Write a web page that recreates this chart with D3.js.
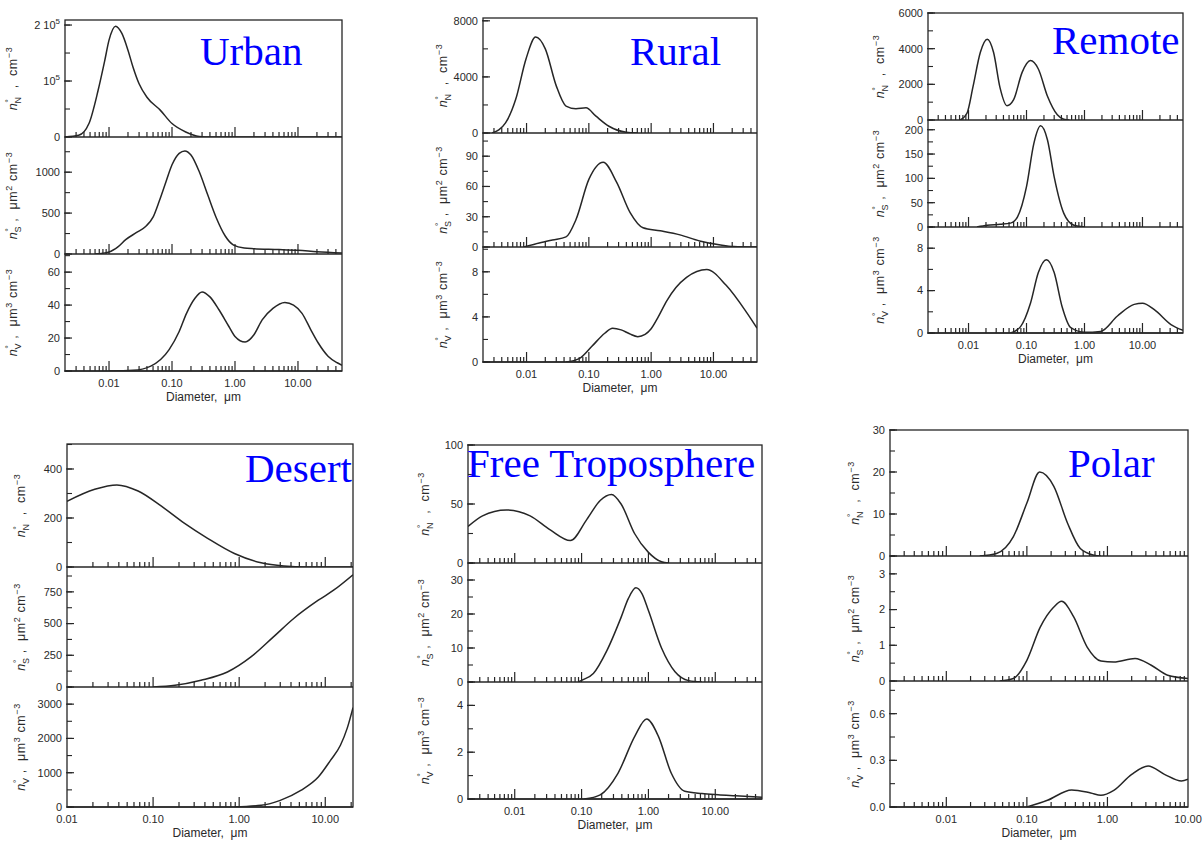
<!DOCTYPE html>
<html>
<head>
<meta charset="utf-8">
<script src="https://cdn.jsdelivr.net/npm/d3@7"></script>
<style>
  body { margin: 0; background: #fff; }
  svg text { font-family: "Liberation Sans", Arial, sans-serif; fill: #2a2a2a; }
  .tick-label { font-size: 11px; }
  .axis-title { font-size: 12px; }
  .y-title { font-size: 12.5px; letter-spacing: 0.6px; white-space: pre; }
  .title { font-family: "Liberation Serif", "Times New Roman", serif; font-size: 41px; fill: #0000ff; }
</style>
</head>
<body>
<svg id="chart" width="1203" height="841"></svg>
<script>
// ---- data: [diameter µm, value] ----
const urbanN = [[0.002,0],[0.0033,3000],[0.0048,24000],[0.0067,83000],[0.0085,135000],[0.01,173000],[0.0127,198000],[0.016,185000],[0.02,155000],[0.024,125000],[0.03,95000],[0.04,71000],[0.065,48000],[0.1,24000],[0.165,9000],[0.27,1000],[0.4,0],[50,0]];
const urbanS = [[0.006,0],[0.01,25],[0.014,90],[0.0184,175],[0.027,260],[0.0385,340],[0.05,450],[0.063,650],[0.08,880],[0.1,1090],[0.13,1230],[0.16,1260],[0.2,1210],[0.27,1008],[0.37,720],[0.5,450],[0.7,220],[0.95,108],[1.4,72],[2,65],[5,55],[10,45],[20,28],[50,12]];
const urbanV = [[0.01,0],[0.024,0.4],[0.046,3],[0.09,13],[0.13,24],[0.17,35],[0.23,44],[0.3,48],[0.4,45],[0.56,37],[0.8,27],[1.0,21],[1.45,17.6],[2,22],[2.7,31],[4,38],[6.2,41.6],[8.5,40],[11.6,35],[16,25],[21,17],[30,9],[42,5],[50,3.5]];

const ruralN = [[0.0028,0],[0.0046,720],[0.0067,2400],[0.0098,5280],[0.014,6840],[0.02,6000],[0.03,3360],[0.043,1920],[0.062,1730],[0.09,1800],[0.13,1200],[0.21,480],[0.4,50],[0.6,0]];
const ruralS = [[0.009,0],[0.016,4],[0.026,7],[0.043,10],[0.062,27],[0.1,67],[0.17,84],[0.28,64],[0.46,34],[0.74,19],[1.4,16],[2.9,12],[6,6],[13,2],[21,0.5],[50,0]];
const ruralV = [[0.043,0],[0.07,0.3],[0.11,1.35],[0.18,2.55],[0.24,3.0],[0.33,2.85],[0.45,2.5],[0.61,2.25],[0.8,2.45],[1.0,2.95],[1.3,4.0],[1.77,5.4],[2.5,6.6],[3.7,7.5],[7.8,8.2],[16,6.8],[34,4.4],[50,3.0]];

const remoteN = [[0.0072,0],[0.0094,380],[0.012,1900],[0.016,3800],[0.021,4530],[0.027,3800],[0.035,1800],[0.046,800],[0.06,1140],[0.084,2670],[0.117,3330],[0.16,2860],[0.23,1330],[0.34,290],[0.44,40],[0.55,0]];
const remoteS = [[0.014,0],[0.021,3.5],[0.035,5.5],[0.053,8],[0.07,21],[0.1,83],[0.134,172],[0.175,208],[0.23,179],[0.3,103],[0.44,28],[0.66,3.5],[1,0]];
const remoteV = [[0.053,0],[0.079,0.6],[0.117,2.8],[0.16,5.7],[0.22,6.9],[0.3,5.7],[0.41,2.5],[0.58,0.5],[1,0.06],[1.9,0.15],[3.7,1.6],[7.2,2.7],[10,2.8],[16,2.2],[31,0.8],[50,0.25]];

const desertN = [[0.01,268],[0.021,317],[0.038,335],[0.067,310],[0.125,248],[0.23,179],[0.43,117],[0.88,55],[1.8,17],[3.3,4],[6.1,0],[21,0]];
const desertS = [[0.1,0],[0.18,13],[0.36,53],[0.73,118],[1.37,237],[2.5,395],[4.3,540],[8.3,684],[12.5,763],[21,885]];
const desertV = [[0.88,0],[1.8,49],[3.0,194],[5.2,485],[8.3,874],[11.5,1360],[15,1800],[18,2300],[21,2900]];

const freeN = [[0.002,31],[0.0033,40],[0.0075,45],[0.017,40],[0.034,28],[0.068,19],[0.12,37],[0.19,53],[0.28,58],[0.39,50],[0.62,25],[1,9],[1.57,1],[2,0]];
const freeS = [[0.09,0],[0.1,0.5],[0.15,2.5],[0.24,9.3],[0.39,19],[0.5,24.5],[0.65,27.7],[0.8,26],[1.0,21],[1.57,10],[2.5,3],[4,0.4],[6.3,0]];
const freeV = [[0.11,0],[0.19,0.18],[0.35,1.1],[0.63,2.7],[0.94,3.42],[1.4,2.7],[2.2,1.1],[3.5,0.33],[6.3,0.23],[11,0.18],[20,0.14],[50,0.08]];

const polarN = [[0.026,0],[0.042,0.6],[0.068,4.6],[0.1,12.6],[0.144,20],[0.216,16.6],[0.32,7.8],[0.46,1.8],[0.68,0.2],[0.83,0]];
const polarS = [[0.046,0],[0.068,0.07],[0.1,0.58],[0.146,1.5],[0.216,2.07],[0.27,2.23],[0.38,1.8],[0.56,0.95],[0.83,0.56],[1.2,0.53],[2.2,0.63],[3.5,0.44],[5.6,0.16],[10,0.07]];
const polarV = [[0.1,0],[0.18,0.043],[0.36,0.11],[0.62,0.09],[0.83,0.075],[1.2,0.107],[2.0,0.21],[3.2,0.263],[5.1,0.21],[8.3,0.167],[10,0.178]];

// ---- axes: x range, y maxima (N, S, V), labelled ticks, minor tick step ----
const panelNames = ['Urban', 'Rural', 'Remote', 'Desert', 'Free Troposphere', 'Polar'];
const xDomains = [[0.002, 50], [0.002, 50], [0.002, 50], [0.01, 21], [0.002, 50], [0.002, 10]];
const xTickValues = [0.01, 0.1, 1, 10];
const xTickLabels = ['0.01', '0.10', '1.00', '10.00'];

const yMaxima = [
  [2.09e5, 1430, 71],
  [8200, 113, 10.2],
  [6000, 220, 10],
  [502, 946, 3500],
  [100, 35, 5],
  [30, 3.5, 0.81]
];
const yTickValues = [
  [[0, 1e5, 2e5], [0, 500, 1000], [0, 20, 40, 60]],
  [[0, 4000, 8000], [0, 30, 60, 90], [0, 4, 8]],
  [[0, 2000, 4000, 6000], [0, 50, 100, 150, 200], [0, 4, 8]],
  [[0, 200, 400], [0, 250, 500, 750], [0, 1000, 2000, 3000]],
  [[0, 50, 100], [0, 10, 20, 30], [0, 2, 4]],
  [[0, 10, 20, 30], [0, 1, 2, 3], [0, 0.3, 0.6]]
];
const yTickLabels = [
  [['0', '10^5', '2 10^5'], ['0', '500', '1000'], ['0', '20', '40', '60']],
  [['0', '4000', '8000'], ['0', '30', '60', '90'], ['0', '4', '8']],
  [['0', '2000', '4000', '6000'], ['0', '50', '100', '150', '200'], ['0', '4', '8']],
  [['0', '200', '400'], ['0', '250', '500', '750'], ['0', '1000', '2000', '3000']],
  [['0', '50', '100'], ['0', '10', '20', '30'], ['0', '2', '4']],
  [['0', '10', '20', '30'], ['0', '1', '2', '3'], ['0.0', '0.3', '0.6']]
];
const yMinorSteps = [
  [0.5e5, 250, 10],
  [2000, 15, 2],
  [1000, 25, 2],
  [100, 125, 500],
  [25, 5, 1],
  [5, 0.5, 0.15]
];
const seriesByPanel = [
  [urbanN, urbanS, urbanV],
  [ruralN, ruralS, ruralV],
  [remoteN, remoteS, remoteV],
  [desertN, desertS, desertV],
  [freeN, freeS, freeV],
  [polarN, polarS, polarV]
];

// ---- layout (pixels) ----
const layouts = [
  {left: 65,  right: 342,  top: 20,  bottoms: [137, 254, 371], titleOff: 48, tx: 200,  ty: 65},
  {left: 483, right: 757,  top: 18,  bottoms: [133, 247, 362], titleOff: 36, tx: 630,  ty: 65},
  {left: 928, right: 1183, top: 13,  bottoms: [120, 227, 333], titleOff: 44, tx: 1052, ty: 54},
  {left: 67,  right: 353,  top: 444, bottoms: [567, 687, 807], titleOff: 42, tx: 245,  ty: 482},
  {left: 468, right: 762,  top: 445, bottoms: [563, 682, 799], titleOff: 39, tx: 467,  ty: 477},
  {left: 890, right: 1188, top: 430, bottoms: [556, 681, 807], titleOff: 31, tx: 1068, ty: 477}
];

const svg = d3.select('#chart');
const ink = '#262626';

// label like "2 10^5" -> tspans with superscript
function tickText(sel, label) {
  const parts = label.split('^');
  sel.append('tspan').text(parts[0]);
  if (parts[1]) {
    sel.append('tspan').attr('font-size', 8).attr('dy', -5).text(parts[1]);
  }
}

// rotated y title: n°_X , unit
function yTitle(sel, sub, unitPow) {
  sel.append('tspan').style('font-style', 'italic').text('n');
  sel.append('tspan').attr('font-size', 9).attr('dy', -5).text('°');
  sel.append('tspan').attr('font-size', 9).attr('dx', -5).attr('dy', 9).text(sub);
  sel.append('tspan').attr('dy', -4).text(unitPow ? ' ,  μm' : '  ,  cm');
  if (unitPow) {
    sel.append('tspan').attr('font-size', 9).attr('dy', -5).text(unitPow);
    sel.append('tspan').attr('dy', 5).text(' cm');
  }
  sel.append('tspan').attr('font-size', 9).attr('dy', -5).text('−3');
}

const subNames = ['N', 'S', 'V'];
const unitPows = [null, '2', '3'];

panelNames.forEach((name, pi) => {
  const L = layouts[pi];
  const g = svg.append('g').attr('class', 'panel');
  const x = d3.scaleLog().domain(xDomains[pi]).range([L.left, L.right]);
  const tops = [L.top, L.bottoms[0], L.bottoms[1]];

  // x minor/major positions
  const xTicks = [];
  const [d0, d1] = xDomains[pi];
  for (let k = Math.floor(Math.log10(d0)); k <= Math.ceil(Math.log10(d1)); k++) {
    for (let m = 1; m <= 9; m++) {
      const v = m * Math.pow(10, k);
      if (v >= d0 * 1.001 && v <= d1 * 0.999) xTicks.push({v, major: m === 1});
    }
  }

  seriesByPanel[pi].forEach((data, si) => {
    const y = d3.scaleLinear().domain([0, yMaxima[pi][si]]).range([L.bottoms[si], tops[si]]);
    const sub = g.append('g');

    const clipId = `clip-${pi}-${si}`;
    svg.append('clipPath').attr('id', clipId)
      .append('rect')
        .attr('x', L.left).attr('y', tops[si])
        .attr('width', L.right - L.left).attr('height', L.bottoms[si] - tops[si]);

    // minor y ticks
    const minor = d3.range(0, yMaxima[pi][si] + 1e-9, yMinorSteps[pi][si]);
    sub.selectAll('.ymin').data(minor).join('line')
      .attr('x1', L.left).attr('x2', L.left + 5)
      .attr('y1', d => y(d)).attr('y2', d => y(d))
      .attr('stroke', ink).attr('stroke-width', 1.1);

    // major y ticks + labels
    sub.selectAll('.ymaj').data(yTickValues[pi][si]).join('line')
      .attr('x1', L.left - 1).attr('x2', L.left + 7)
      .attr('y1', d => y(d)).attr('y2', d => y(d))
      .attr('stroke', ink).attr('stroke-width', 1.2);

    sub.selectAll('.ylab').data(yTickValues[pi][si]).join('text')
      .attr('class', 'tick-label')
      .attr('x', L.left - 5)
      .attr('y', d => y(d))
      .attr('dy', '0.35em')
      .attr('text-anchor', 'end')
      .each(function (d, i) { tickText(d3.select(this), yTickLabels[pi][si][i]); });

    // x ticks on the baseline of each strip
    sub.selectAll('.xt').data(xTicks).join('line')
      .attr('x1', d => x(d.v)).attr('x2', d => x(d.v))
      .attr('y1', L.bottoms[si]).attr('y2', d => L.bottoms[si] - (d.major ? 10 : 5))
      .attr('stroke', ink).attr('stroke-width', 1.2);

    // curve
    const line = d3.line()
      .x(d => x(d[0]))
      .y(d => y(d[1]))
      .curve(d3.curveMonotoneX);
    sub.append('path')
      .datum(data)
      .attr('clip-path', `url(#${clipId})`)
      .attr('d', line)
      .attr('fill', 'none')
      .attr('stroke', ink)
      .attr('stroke-width', 1.5);

    // y title
    sub.append('text')
      .attr('class', 'y-title')
      .attr('text-anchor', 'middle')
      .attr('transform', `translate(${L.left - L.titleOff},${(tops[si] + L.bottoms[si]) / 2}) rotate(-90)`)
      .call(t => yTitle(t, subNames[si], unitPows[si]));

    // strip baseline
    sub.append('line')
      .attr('x1', L.left).attr('x2', L.right)
      .attr('y1', L.bottoms[si]).attr('y2', L.bottoms[si])
      .attr('stroke', ink).attr('stroke-width', 1.5);
  });

  // frame
  g.append('rect')
    .attr('x', L.left).attr('y', L.top)
    .attr('width', L.right - L.left).attr('height', L.bottoms[2] - L.top)
    .attr('fill', 'none').attr('stroke', ink).attr('stroke-width', 1.3);

  // x labels
  const xs = xTickValues.map((v, i) => ({v, label: xTickLabels[i]}))
    .filter(d => d.v >= d0 * 0.999 && d.v <= d1 * 1.001);
  g.selectAll('.xlab').data(xs).join('text')
    .attr('class', 'tick-label')
    .attr('x', d => x(d.v))
    .attr('y', L.bottoms[2] + 16)
    .attr('text-anchor', 'middle')
    .text(d => d.label);

  g.append('text')
    .attr('class', 'axis-title')
    .attr('x', (L.left + L.right) / 2)
    .attr('y', L.bottoms[2] + 30)
    .attr('text-anchor', 'middle')
    .style('white-space', 'pre')
    .text('Diameter,  μm');

  // panel name
  g.append('text')
    .attr('class', 'title')
    .attr('x', L.tx)
    .attr('y', L.ty)
    .text(name);
});
</script>
</body>
</html>
